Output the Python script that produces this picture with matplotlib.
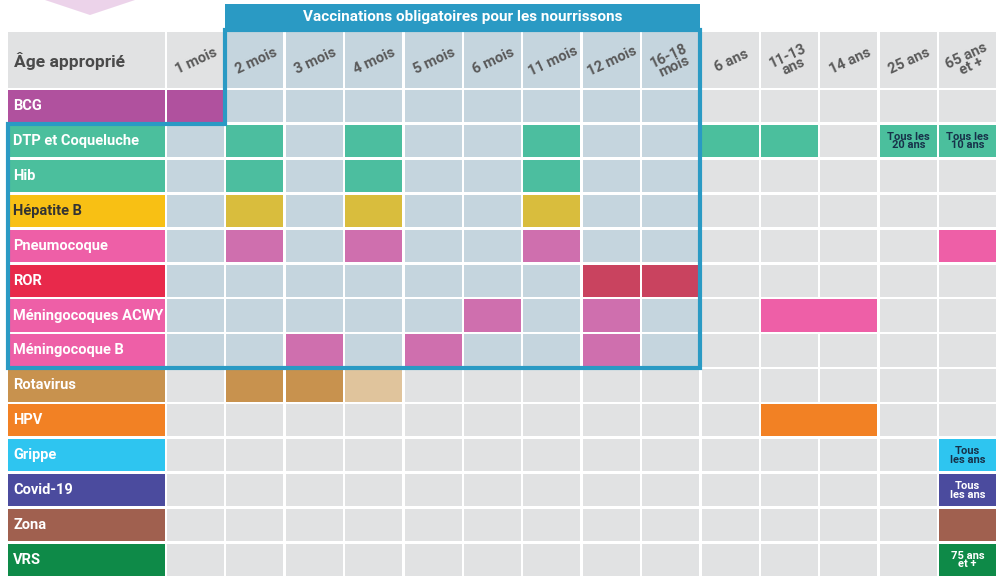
import matplotlib.pyplot as plt
from matplotlib.patches import Rectangle, Polygon

# ---- data ----
ages = ['1 mois', '2 mois', '3 mois', '4 mois', '5 mois', '6 mois', '11 mois',
        '12 mois', '16-18\nmois', '6 ans', '11-13\nans', '14 ans', '25 ans', '65 ans\net +']
vaccines = ['BCG', 'DTP et Coqueluche', 'Hib', 'Hépatite B', 'Pneumocoque', 'ROR',
            'Méningocoques ACWY', 'Méningocoque B', 'Rotavirus', 'HPV', 'Grippe',
            'Covid-19', 'Zona', 'VRS']
label_colors = ['#b0519e', '#4bbf9d', '#4bbf9d', '#f8c014', '#ee5fa7', '#e8294b',
                '#ee5fa7', '#ee5fa7', '#c8924e', '#f28124', '#2ec5f0', '#4b4b9e',
                '#a0604f', '#0e8a48']
label_text_dark = [False, False, False, True, False, False, False, False, False,
                   False, False, False, False, False]
# (row, first col, last col, colour, text)
doses = [
    (0, 0, 0, '#b0519e', ''),
    (1, 1, 1, '#4cbe9f', ''), (1, 3, 3, '#4cbe9f', ''), (1, 6, 6, '#4cbe9f', ''),
    (1, 9, 9, '#4bbf9d', ''), (1, 10, 10, '#4bbf9d', ''),
    (1, 12, 12, '#4bbf9d', 'Tous les\n20 ans'), (1, 13, 13, '#4bbf9d', 'Tous les\n10 ans'),
    (2, 1, 1, '#4cbe9f', ''), (2, 3, 3, '#4cbe9f', ''), (2, 6, 6, '#4cbe9f', ''),
    (3, 1, 1, '#d9bd3d', ''), (3, 3, 3, '#d9bd3d', ''), (3, 6, 6, '#d9bd3d', ''),
    (4, 1, 1, '#cf6fae', ''), (4, 3, 3, '#cf6fae', ''), (4, 6, 6, '#cf6fae', ''),
    (4, 13, 13, '#ee5fa7', ''),
    (5, 7, 7, '#c9435f', ''), (5, 8, 8, '#c9435f', ''),
    (6, 5, 5, '#cf6fae', ''), (6, 7, 7, '#cf6fae', ''), (6, 10, 11, '#ee5fa7', ''),
    (7, 2, 2, '#cf6fae', ''), (7, 4, 4, '#cf6fae', ''), (7, 7, 7, '#cf6fae', ''),
    (8, 1, 1, '#c8924e', ''), (8, 2, 2, '#c8924e', ''), (8, 3, 3, '#e0c49c', ''),
    (9, 10, 11, '#f28124', ''),
    (10, 13, 13, '#2ec5f0', 'Tous\nles ans'),
    (11, 13, 13, '#4b4b9e', 'Tous\nles ans'),
    (12, 13, 13, '#a0604f', ''),
    (13, 13, 13, '#0e8a48', '75 ans\net +'),
]

# ---- layout (pixels) ----
W, H = 1007, 587
x_lab, x0, cw, gap = 8, 167, 59.4, 2.5
y_head, y0, rh = 32, 90, 34.9
FONT = ['Roboto', 'DejaVu Sans']

fig = plt.figure(figsize=(W / 100, H / 100), dpi=100)
ax = fig.add_axes([0, 0, 1, 1])
ax.set_xlim(0, W)
ax.set_ylim(H, 0)
ax.axis('off')

def in_frame(r, c):
    return (r == 0 and 1 <= c <= 8) or (1 <= r <= 7 and c <= 8)

# decorative pink arrow top-left
ax.add_patch(Polygon([(45, 0), (135, 0), (90, 15)], color='#ecd3ea', lw=0))

# header
ax.add_patch(Rectangle((x_lab, y_head), x0 - gap - x_lab, y0 - gap - y_head, color='#e1e2e3', lw=0))
ax.text(x_lab + 6, (y_head + y0) / 2, 'Âge approprié', fontsize=12.5, fontweight='bold',
        color='#4a4a4a', va='center', family=FONT)
for c, a in enumerate(ages):
    fc = '#c5d5de' if 1 <= c <= 8 else '#e1e2e3'
    ax.add_patch(Rectangle((x0 + c * cw, y_head), cw - gap, y0 - gap - y_head, color=fc, lw=0))
    ax.text(x0 + c * cw + cw / 2, (y_head + y0) / 2, a, rotation=25, ha='center', va='center',
            fontsize=10.5, fontweight='bold', color='#5a5a5a', family=FONT, linespacing=0.8)

# grid background
for r, v in enumerate(vaccines):
    y = y0 + r * rh
    ax.add_patch(Rectangle((x_lab, y), x0 - gap - x_lab, rh - gap, color=label_colors[r], lw=0))
    ax.text(x_lab + 5, y + (rh - gap) / 2, v, fontsize=10.5, fontweight='bold', va='center',
            color='#333333' if label_text_dark[r] else 'white', family=FONT)
    for c in range(len(ages)):
        fc = '#c5d5de' if in_frame(r, c) else '#e1e2e3'
        ax.add_patch(Rectangle((x0 + c * cw, y), cw - gap, rh - gap, color=fc, lw=0))

# doses
for r, c1, c2, col, txt in doses:
    y = y0 + r * rh
    x = x0 + c1 * cw
    w = (c2 - c1 + 1) * cw - gap
    ax.add_patch(Rectangle((x, y), w, rh - gap, color=col, lw=0))
    if txt:
        tc = 'white' if col in ('#4b4b9e', '#0e8a48') else '#17324a'
        ax.text(x + w / 2, y + (rh - gap) / 2, txt, ha='center', va='center', fontsize=8,
                fontweight='bold', color=tc, family=FONT, linespacing=0.85)

# compulsory vaccinations frame
blue = '#2a9ac4'
xr = x0 + 9 * cw - gap / 2
xl = x0 + cw - gap / 2
ax.add_patch(Rectangle((xl, 4), xr - xl, 26, color=blue, lw=0))
ax.text((xl + xr) / 2, 17, 'Vaccinations obligatoires pour les nourrissons', ha='center',
        va='center', fontsize=11, fontweight='bold', color='white', family=FONT)
yb = y0 + rh - gap / 2
ye = y0 + 8 * rh - gap / 2
ax.add_patch(Polygon([(xl, 30), (xr, 30), (xr, ye), (x_lab, ye), (x_lab, yb), (xl, yb)],
                     closed=True, fill=False, edgecolor=blue, lw=3, joinstyle='miter'))

fig.savefig('out.png', dpi=100)
